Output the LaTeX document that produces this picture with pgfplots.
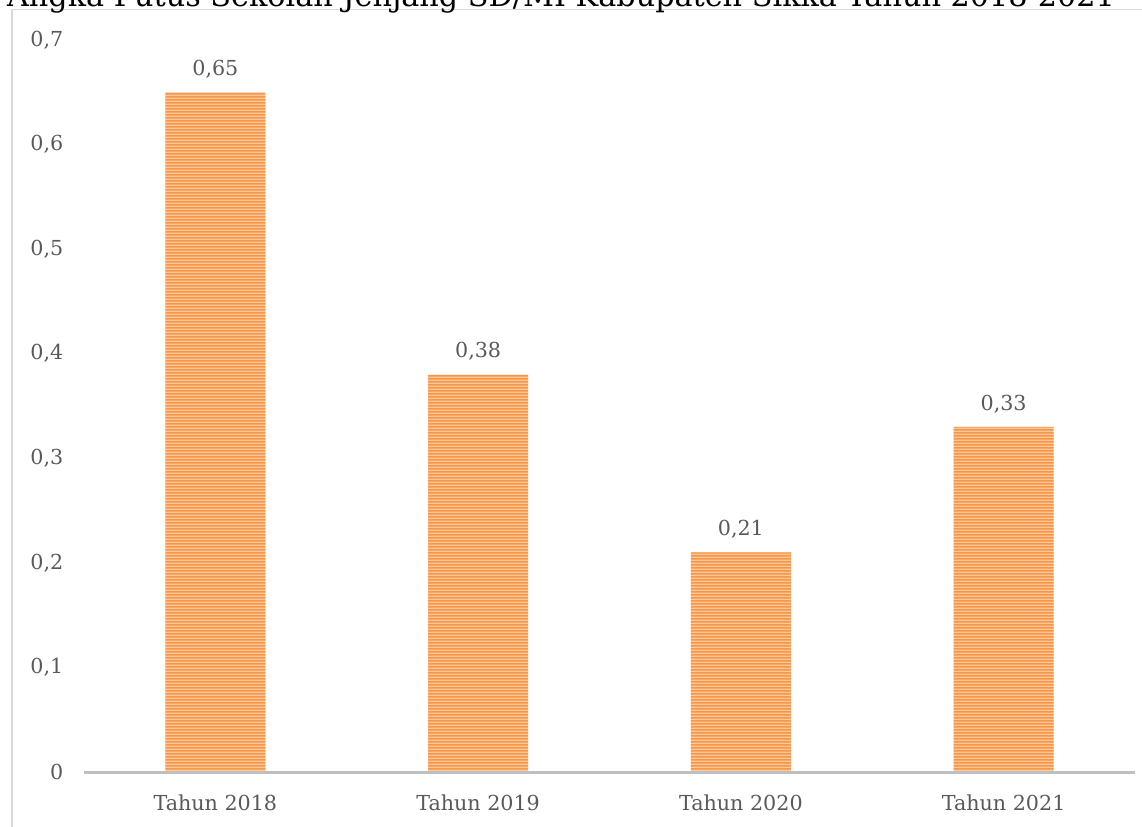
\documentclass[border=0pt]{standalone}
\usepackage{pgfplots}
\pgfplotsset{compat=1.18}
\usepackage{fontspec}
\setmainfont{DejaVu Serif}
\newfontfamily\titlefont{DejaVu Serif}
\usetikzlibrary{patterns}
\pgfdeclarepatternformonly{hstripes}{\pgfpoint{0pt}{0pt}}{\pgfpoint{100pt}{2.25pt}}{\pgfpoint{100pt}{2.25pt}}{%
  \pgfsetlinewidth{1.3pt}%
  \pgfpathmoveto{\pgfpoint{-1pt}{1.125pt}}%
  \pgfpathlineto{\pgfpoint{101pt}{1.125pt}}%
  \pgfusepath{stroke}}
\definecolor{barorange}{HTML}{F79646}
\definecolor{barlight}{HTML}{FBC79A}
\definecolor{ticktext}{HTML}{595959}
\definecolor{frameline}{HTML}{D9D9D9}
\definecolor{axisgrey}{HTML}{BFBFBF}
\begin{document}
\begin{tikzpicture}
\begin{axis}[
  at={(0,0)}, anchor=south west,
  scale only axis,
  width=788.25pt, height=549pt,
  xmin=-0.5, xmax=3.5, ymin=0, ymax=0.7,
  axis line style={draw=none},
  major tick length=0pt,
  xtick={0,1,2,3},
  xticklabels={Tahun 2018,Tahun 2019,Tahun 2020,Tahun 2021},
  ytick={0,0.1,0.2,0.3,0.4,0.5,0.6,0.7},
  yticklabel style={xshift=-12pt},
  xticklabel style={yshift=-13.5pt},
  ticklabel style={font=\fontsize{15.5}{18}\selectfont, text=ticktext},
  /pgf/number format/assume math mode=true,
  /pgf/number format/use comma,
  /pgf/number format/fixed,
  ybar, bar width=75pt,
  nodes near coords,
  nodes near coords style={font=\fontsize{15.5}{18}\selectfont, text=ticktext, yshift=7pt,
    /pgf/number format/fixed, /pgf/number format/fixed zerofill, /pgf/number format/precision=2},
  clip=false,
]
\addplot[draw=none, fill=barlight,
  postaction={pattern=hstripes, pattern color=barorange}]
  coordinates {(0,0.65) (1,0.38) (2,0.21) (3,0.33)};
\draw[axisgrey, line width=2.25pt] (rel axis cs:0,0) -- (rel axis cs:1,0);
\end{axis}
\draw[frameline, line width=1.1pt] (-54pt,-60pt) -- (-54pt,572pt) -- (820pt,572pt);
\node[anchor=base, font=\titlefont\fontsize{22.7}{24}\selectfont] at (357.75pt,573.75pt)
  {Angka Putus Sekolah Jenjang SD/MI Kabupaten Sikka Tahun 2018-2021};
\pgfresetboundingbox
\useasboundingbox (-63pt,-40.5pt) rectangle (793.5pt,579pt);
\end{tikzpicture}
\end{document}
